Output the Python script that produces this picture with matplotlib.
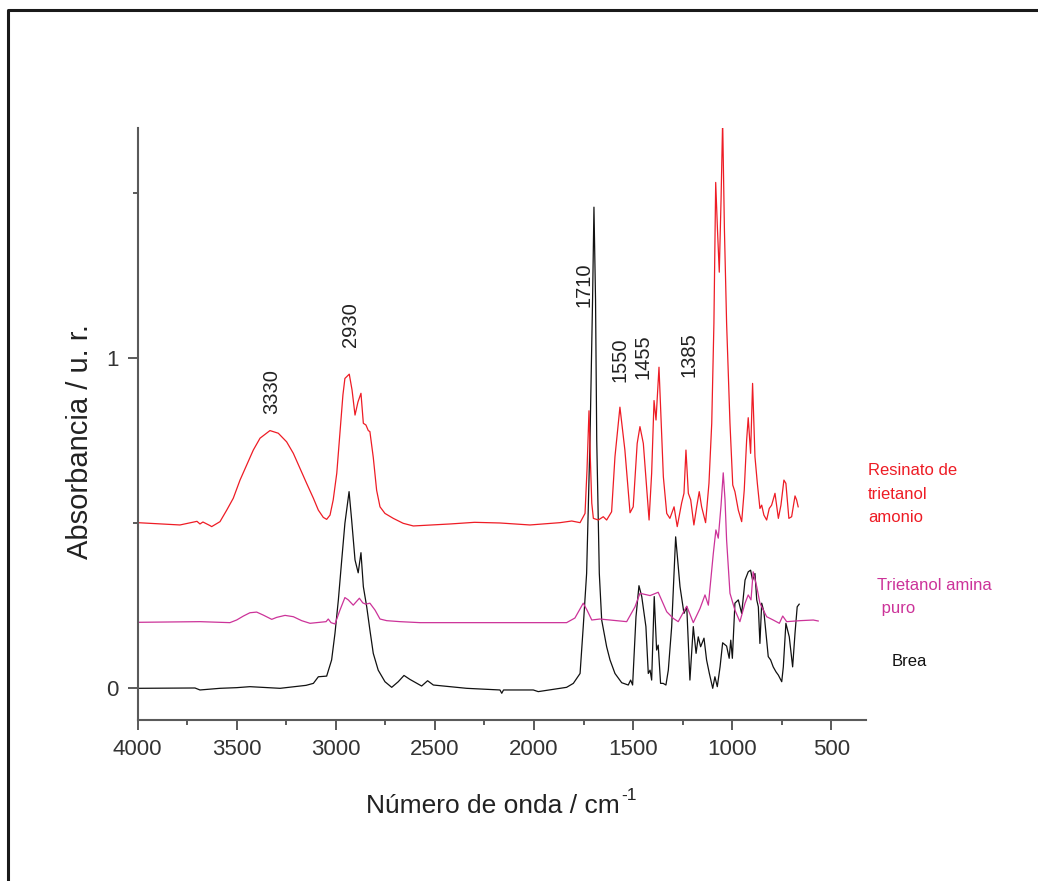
import matplotlib
matplotlib.use("Agg")
import matplotlib.pyplot as plt
from matplotlib.ticker import MultipleLocator
from matplotlib.lines import Line2D

plt.rcParams['font.family'] = ['Liberation Sans', 'DejaVu Sans']

# ---------------- data (wavenumber cm-1, absorbance) ----------------
resinato_wn = [4000, 3786, 3700, 3685, 3670, 3634, 3626, 3584, 3550, 3517, 3483, 3449, 3416, 3382,
               3332, 3290, 3248, 3214, 3181, 3147, 3113, 3088, 3063, 3046, 3029, 3013, 2995, 2979,
               2964, 2954, 2932, 2918, 2903, 2888, 2873, 2861, 2848, 2836, 2828, 2811, 2794, 2777,
               2752, 2710, 2660, 2609, 2424, 2300, 2172, 2021, 1869, 1810, 1768, 1743, 1733,
               1723, 1716, 1709, 1701, 1676, 1651, 1634, 1609, 1592, 1567, 1542, 1516, 1500, 1480,
               1466, 1449, 1420, 1407, 1395, 1385, 1370, 1348, 1331, 1315, 1294, 1278, 1256, 1244,
               1234, 1222, 1210, 1194, 1180, 1167, 1155, 1135, 1118, 1104, 1093, 1084, 1075, 1066,
               1057, 1049, 1040, 1029, 1012, 998, 987, 970, 953, 940, 928, 920, 908, 898, 886, 874,
               861, 852, 841, 827, 814, 802, 785, 768, 755, 740, 730, 715, 701, 684, 676, 668]
resinato_abs = [0.502, 0.495, 0.506, 0.498, 0.504, 0.493, 0.490, 0.505, 0.540, 0.576, 0.631, 0.677,
                0.722, 0.758, 0.781, 0.773, 0.747, 0.712, 0.667, 0.621, 0.576, 0.540, 0.518, 0.512,
                0.525, 0.571, 0.652, 0.773, 0.889, 0.939, 0.952, 0.904, 0.828, 0.868, 0.894, 0.803,
                0.798, 0.781, 0.778, 0.700, 0.600, 0.550, 0.530, 0.515, 0.500, 0.492, 0.498, 0.503,
                0.501, 0.495, 0.502, 0.507, 0.502, 0.530, 0.662,
                0.841, 0.692, 0.561, 0.515, 0.510, 0.520,
                0.510, 0.535, 0.702, 0.852, 0.722, 0.532, 0.550, 0.742, 0.793, 0.742, 0.510, 0.652,
                0.872, 0.813, 0.973, 0.641, 0.530, 0.515, 0.550, 0.490, 0.561, 0.591, 0.722, 0.591,
                0.571, 0.495, 0.550, 0.596, 0.550, 0.502, 0.621, 0.803, 1.106, 1.533, 1.389, 1.261,
                1.480, 1.720, 1.389, 1.106, 0.803, 0.616, 0.596, 0.540, 0.505, 0.601, 0.752, 0.820,
                0.712, 0.924, 0.702, 0.621, 0.545, 0.555, 0.525, 0.510, 0.545, 0.555, 0.591, 0.515,
                0.555, 0.631, 0.621, 0.515, 0.520, 0.583, 0.571, 0.550]

tea_wn = [4000, 3685, 3534, 3500, 3466, 3433, 3399, 3366, 3323, 3298, 3256, 3214, 3172, 3130, 3049,
          3038, 3024, 3004, 2979, 2954, 2937, 2912, 2881, 2864, 2849, 2828, 2802, 2777, 2743, 2676,
          2575, 2172, 1836, 1794, 1752, 1733, 1709, 1668,
          1533, 1491, 1466, 1415, 1374, 1331, 1298, 1273, 1230, 1197, 1163, 1138, 1121, 1096, 1083,
          1071, 1057, 1046, 1037, 1029, 1012, 987, 962, 936, 920, 906, 895, 877, 861, 827, 794, 763,
          746, 726, 659, 592, 567]
tea_abs = [0.200, 0.202, 0.199, 0.207, 0.219, 0.229, 0.231, 0.222, 0.209, 0.215, 0.221, 0.217, 0.205,
           0.197, 0.202, 0.210, 0.199, 0.195, 0.237, 0.275, 0.268, 0.252, 0.273, 0.259, 0.255, 0.258,
           0.237, 0.210, 0.205, 0.202, 0.199, 0.199, 0.199, 0.213, 0.258, 0.237, 0.207, 0.210,
           0.202, 0.247, 0.288, 0.281, 0.291, 0.232, 0.212, 0.202, 0.249,
           0.199, 0.242, 0.283, 0.252, 0.409, 0.480, 0.455, 0.555, 0.653, 0.571, 0.449, 0.288, 0.237,
           0.202, 0.258, 0.283, 0.268, 0.353, 0.308, 0.258, 0.217, 0.207, 0.197, 0.219, 0.202, 0.205,
           0.207, 0.204]

brea_wn = [4000, 3710, 3685, 3584, 3500, 3433, 3281, 3150, 3113, 3088, 3046, 3021, 3004, 2987, 2970,
           2954, 2933, 2920, 2903, 2887, 2873, 2861, 2844, 2828, 2811, 2786, 2752, 2718, 2685, 2656,
           2626, 2567, 2537, 2508, 2340, 2172, 2163, 2154,
           2004, 1979, 1836, 1802, 1768, 1752, 1735, 1718, 1705, 1698, 1690, 1684, 1671, 1659, 1634,
           1617, 1592, 1558, 1525, 1513, 1503, 1486, 1471, 1457, 1436, 1424, 1415, 1407, 1394, 1382,
           1374, 1362, 1349, 1335, 1323, 1306, 1286, 1264, 1244, 1230, 1214, 1197, 1183, 1172, 1160,
           1143, 1130, 1116, 1099, 1088, 1076, 1062, 1049, 1029, 1016, 1008, 1000, 987, 970, 953, 936,
           920, 908, 898, 886, 877, 869, 861, 852, 841, 827, 819, 807, 794, 780, 768, 751, 743, 730,
           713, 696, 684, 673, 663]
brea_abs = [0.000, 0.001, -0.005, 0.000, 0.002, 0.005, 0.000, 0.009, 0.015, 0.035, 0.037, 0.086, 0.167,
            0.268, 0.389, 0.500, 0.596, 0.510, 0.389, 0.350, 0.411, 0.308, 0.247, 0.177, 0.106, 0.055,
            0.020, 0.003, 0.020, 0.039, 0.027, 0.007, 0.023, 0.010, 0.000, -0.005, -0.015, -0.005,
            -0.005, -0.010, 0.003, 0.015, 0.045, 0.187, 0.348,
            0.752, 1.177, 1.458, 1.177, 0.752, 0.348, 0.207, 0.126, 0.086, 0.045, 0.017, 0.010, 0.025,
            0.010, 0.217, 0.311, 0.278, 0.187, 0.045, 0.055, 0.025, 0.278, 0.116, 0.131, 0.015, 0.015,
            0.010, 0.055, 0.187, 0.459, 0.308, 0.227, 0.247, 0.025, 0.187, 0.106, 0.156, 0.126, 0.152,
            0.086, 0.045, 0.000, 0.035, 0.005, 0.065, 0.138, 0.128, 0.091, 0.146, 0.091, 0.258, 0.268,
            0.227, 0.328, 0.353, 0.358, 0.328, 0.348, 0.268, 0.247, 0.136, 0.258, 0.232, 0.146, 0.096,
            0.086, 0.065, 0.050, 0.040, 0.020, 0.065, 0.197, 0.156, 0.065, 0.167, 0.247, 0.255]

peak_labels = ["3330", "2930", "1710", "1550", "1455", "1385"]
peak_label_wn = [3322, 2925, 1748, 1567, 1452, 1217]
peak_label_abs = [0.898, 1.101, 1.222, 0.995, 1.005, 1.010]

series_names = ["Resinato de\ntrietanol\namonio", "Trietanol amina\n puro", "Brea"]

# ---------------- figure ----------------
W, H = 1038, 881
fig = plt.figure(figsize=(W / 100, H / 100), dpi=100)
ax_left, ax_right, ax_top, ax_bot = 137.5, 866, 128.3, 720
ax = fig.add_axes([ax_left / W, 1 - ax_bot / H, (ax_right - ax_left) / W, (ax_bot - ax_top) / H])

red = '#EE1C25'
mag = '#CC3399'
blk = '#111111'
ax.plot(brea_wn, brea_abs, color=blk, lw=0.9)
ax.plot(tea_wn, tea_abs, color=mag, lw=0.9)
ax.plot(resinato_wn, resinato_abs, color=red, lw=0.9)

ax.set_xlim(4000, 326)
ax.set_ylim(-0.096, 1.697)

for s in ['top', 'right']:
    ax.spines[s].set_visible(False)
spc = '#5a5a5a'
for s in ['left', 'bottom']:
    ax.spines[s].set_color(spc)
    ax.spines[s].set_linewidth(1.5)

ax.xaxis.set_major_locator(MultipleLocator(500))
ax.xaxis.set_minor_locator(MultipleLocator(250))
ax.yaxis.set_major_locator(MultipleLocator(1))
ax.yaxis.set_minor_locator(MultipleLocator(0.5))
ax.tick_params(axis='both', which='major', direction='out', length=7.5, width=1.4,
               color=spc, labelsize=16, labelcolor='#333333')
ax.tick_params(axis='both', which='minor', direction='out', length=3.6, width=1.4, color=spc)
ax.tick_params(axis='x', which='major', pad=6)
ax.tick_params(axis='y', which='major', pad=6)

for lab, xw, ya in zip(peak_labels, peak_label_wn, peak_label_abs):
    ax.text(xw, ya, lab, rotation=90, ha='center', va='center', fontsize=14.5, color='#222222')

# x label with superscript "-1"
xl = fig.text(366 / W, 1 - 813 / H, 'Número de onda / cm', ha='left', va='baseline',
              fontsize=19, color='#222222')
fig.canvas.draw()
bb = xl.get_window_extent()
fig.text((bb.x1 + 1) / W, 1 - 800 / H, '-1', ha='left', va='baseline', fontsize=12.5,
         color='#222222')
fig.text(80 / W, 1 - 442 / H, 'Absorbancia / u. r.', rotation=90, ha='center', va='center',
         fontsize=21, color='#222222')

fig.text(868 / W, 1 - 494 / H, series_names[0], ha='left', va='center', fontsize=12,
         color=red, linespacing=1.7)
fig.text(877 / W, 1 - 597 / H, series_names[1], ha='left', va='center', fontsize=12,
         color=mag, linespacing=1.65)
fig.text(892 / W, 1 - 662 / H, series_names[2], ha='left', va='center', fontsize=12,
         color='#111111')

# outer frame (left and top edges visible)
fx = 8 / W
fy = 1 - 9.5 / H
fig.add_artist(Line2D([fx, fx, 1.0], [0.0, fy, fy], transform=fig.transFigure,
                      color='#1a1a1a', lw=2.2))

fig.savefig('out.png', dpi=100)
